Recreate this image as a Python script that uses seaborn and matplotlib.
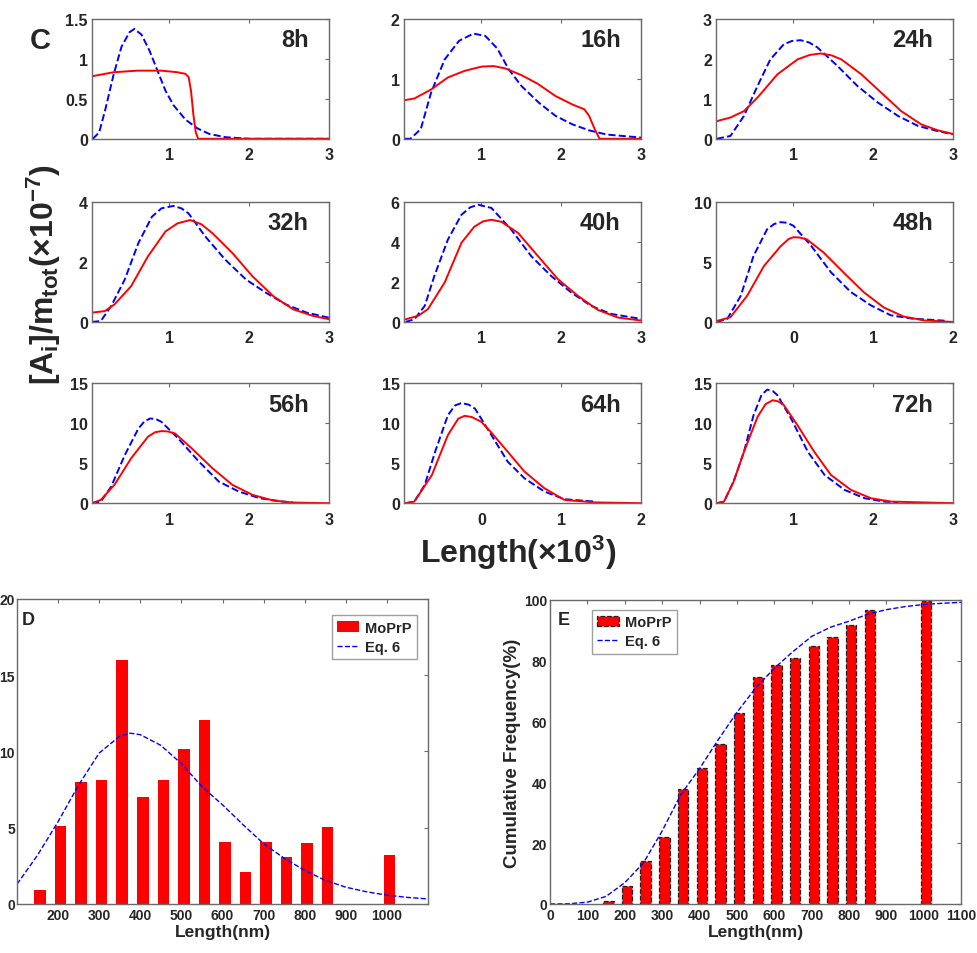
import matplotlib
matplotlib.use("Agg")
import matplotlib.pyplot as plt
import seaborn as sns
import numpy as np
import pandas as pd
from matplotlib.ticker import FuncFormatter

# ---- panel C: length distributions, x in units of 10^3, y in units of 10^-7 ----
red_8h_x = [0.03, 0.3, 0.6, 0.9, 1.1, 1.2, 1.24, 1.27, 1.3, 1.33, 1.36, 2.0, 3.0]
red_8h_y = [0.78, 0.83, 0.85, 0.85, 0.83, 0.81, 0.77, 0.6, 0.3, 0.08, 0.0, 0.0, 0.0]
blue_8h_x = [0.04, 0.12, 0.2, 0.3, 0.4, 0.5, 0.56, 0.65, 0.75, 0.85, 0.95, 1.05, 1.2, 1.35, 1.5, 1.7, 2.0, 3.0]
blue_8h_y = [0.0, 0.08, 0.38, 0.8, 1.15, 1.33, 1.37, 1.3, 1.1, 0.85, 0.6, 0.42, 0.24, 0.13, 0.06, 0.02, 0.0, 0.0]

red_16h_x = [0.03, 0.16, 0.37, 0.58, 0.79, 1.0, 1.15, 1.3, 1.5, 1.7, 1.93, 2.14, 2.29, 2.35, 2.42, 2.48, 3.0]
red_16h_y = [0.64, 0.67, 0.82, 1.02, 1.13, 1.2, 1.21, 1.17, 1.06, 0.92, 0.71, 0.57, 0.49, 0.38, 0.16, 0.0, 0.0]
blue_16h_x = [0.04, 0.11, 0.24, 0.37, 0.54, 0.72, 0.9, 1.05, 1.2, 1.34, 1.5, 1.72, 1.93, 2.14, 2.35, 2.57, 3.0]
blue_16h_y = [0.0, 0.0, 0.16, 0.77, 1.32, 1.63, 1.75, 1.71, 1.5, 1.16, 0.88, 0.6, 0.38, 0.24, 0.14, 0.07, 0.02]

red_24h_x = [0.04, 0.21, 0.38, 0.55, 0.8, 1.05, 1.2, 1.34, 1.48, 1.6, 1.85, 2.1, 2.35, 2.6, 2.81, 3.0]
red_24h_y = [0.44, 0.53, 0.69, 1.03, 1.61, 1.98, 2.09, 2.13, 2.08, 1.98, 1.61, 1.15, 0.69, 0.36, 0.21, 0.12]
blue_24h_x = [0.04, 0.21, 0.38, 0.55, 0.71, 0.88, 0.98, 1.09, 1.2, 1.3, 1.55, 1.8, 2.06, 2.31, 2.56, 2.81, 3.0]
blue_24h_y = [0.0, 0.07, 0.57, 1.32, 1.98, 2.36, 2.44, 2.46, 2.4, 2.28, 1.82, 1.32, 0.9, 0.57, 0.32, 0.19, 0.11]

red_32h_x = [0.03, 0.19, 0.31, 0.52, 0.73, 0.95, 1.1, 1.26, 1.4, 1.54, 1.79, 2.04, 2.3, 2.55, 2.8, 3.0]
red_32h_y = [0.31, 0.36, 0.58, 1.19, 2.18, 3.01, 3.28, 3.39, 3.25, 2.95, 2.29, 1.52, 0.86, 0.42, 0.2, 0.09]
blue_32h_x = [0.03, 0.14, 0.27, 0.44, 0.61, 0.78, 0.9, 1.05, 1.15, 1.24, 1.45, 1.7, 1.96, 2.21, 2.46, 2.72, 3.0]
blue_32h_y = [0.0, 0.03, 0.53, 1.41, 2.62, 3.5, 3.78, 3.86, 3.78, 3.61, 2.84, 2.07, 1.41, 0.97, 0.58, 0.31, 0.14]

red_40h_x = [0.05, 0.21, 0.33, 0.54, 0.75, 0.91, 1.02, 1.125, 1.25, 1.46, 1.71, 1.96, 2.21, 2.46, 2.71, 3.0]
red_40h_y = [0.13, 0.31, 0.64, 1.97, 3.95, 4.75, 5.02, 5.1, 5.0, 4.44, 3.28, 2.13, 1.3, 0.6, 0.22, 0.07]
blue_40h_x = [0.05, 0.16, 0.29, 0.41, 0.58, 0.75, 0.86, 0.96, 1.125, 1.375, 1.625, 1.875, 2.125, 2.375, 2.625, 3.0]
blue_40h_y = [0.0, 0.13, 0.8, 2.29, 4.11, 5.35, 5.72, 5.85, 5.69, 4.6, 3.28, 2.29, 1.47, 0.8, 0.4, 0.15]

red_48h_x = [-0.96, -0.79, -0.58, -0.37, -0.16, -0.06, 0.0, 0.08, 0.17, 0.38, 0.63, 0.88, 1.13, 1.38, 1.64, 2.0]
red_48h_y = [0.08, 0.39, 2.18, 4.65, 6.3, 6.9, 7.05, 7.02, 6.86, 5.76, 4.1, 2.48, 1.21, 0.45, 0.12, 0.0]
blue_48h_x = [-0.96, -0.83, -0.66, -0.5, -0.33, -0.24, -0.16, -0.08, 0.0, 0.22, 0.47, 0.72, 0.97, 1.22, 1.48, 1.9]
blue_48h_y = [0.0, 0.25, 2.18, 5.5, 7.71, 8.15, 8.3, 8.25, 8.0, 6.35, 4.13, 2.48, 1.38, 0.55, 0.28, 0.1]

red_56h_x = [0.03, 0.14, 0.31, 0.52, 0.73, 0.82, 0.9, 0.98, 1.07, 1.28, 1.54, 1.79, 2.04, 2.3, 2.55, 3.0]
red_56h_y = [0.0, 0.41, 2.28, 5.6, 8.29, 8.85, 9.0, 8.95, 8.7, 6.84, 4.35, 2.28, 1.04, 0.33, 0.08, 0.0]
blue_56h_x = [0.03, 0.14, 0.27, 0.44, 0.61, 0.69, 0.76, 0.83, 0.9, 1.11, 1.37, 1.62, 1.87, 2.13, 2.42, 2.55]
blue_56h_y = [0.0, 0.2, 2.07, 6.0, 9.3, 10.25, 10.57, 10.5, 10.15, 8.08, 5.18, 2.69, 1.45, 0.62, 0.2, 0.1]

red_64h_x = [-0.95, -0.84, -0.62, -0.42, -0.29, -0.21, -0.12, 0.0, 0.125, 0.33, 0.54, 0.79, 1.04, 1.42, 2.0]
red_64h_y = [0.0, 0.2, 3.52, 8.5, 10.55, 10.9, 10.75, 10.15, 8.8, 6.42, 3.94, 1.86, 0.41, 0.1, 0.0]
blue_64h_x = [-0.95, -0.84, -0.71, -0.58, -0.42, -0.33, -0.25, -0.16, -0.08, 0.125, 0.33, 0.54, 0.79, 1.04, 1.42]
blue_64h_y = [0.0, 0.2, 2.28, 6.42, 10.98, 12.2, 12.5, 12.3, 11.8, 8.5, 5.18, 3.1, 1.45, 0.5, 0.2]

red_72h_x = [0.04, 0.13, 0.25, 0.38, 0.55, 0.65, 0.74, 0.81, 0.88, 1.05, 1.26, 1.47, 1.72, 1.97, 2.22, 3.0]
red_72h_y = [0.0, 0.2, 2.69, 6.42, 10.77, 12.35, 12.85, 12.7, 12.23, 9.74, 6.42, 3.52, 1.66, 0.62, 0.2, 0.0]
blue_72h_x = [0.04, 0.13, 0.25, 0.38, 0.5, 0.6, 0.67, 0.74, 0.8, 0.97, 1.18, 1.39, 1.64, 1.89, 2.14, 2.31]
blue_72h_y = [0.0, 0.2, 2.69, 6.42, 10.98, 13.5, 14.17, 14.0, 13.47, 10.57, 6.42, 3.52, 1.66, 0.62, 0.2, 0.1]

time_labels = ["8h", "16h", "24h", "32h", "40h", "48h", "56h", "64h", "72h"]

# ---- panels D and E: measured MoPrP fibril lengths ----
bin_nm = [156, 206, 256, 306, 356, 406, 456, 506, 556, 606, 656, 706, 756, 806, 856, 1006]
freq = [0.94, 5.1, 8.0, 8.1, 16.0, 7.0, 8.15, 10.15, 12.05, 4.05, 2.1, 4.05, 3.05, 4.0, 5.05, 3.2]
cum_freq = [1.1, 6.0, 14.1, 22.0, 37.7, 44.7, 52.7, 62.9, 74.7, 78.6, 80.8, 84.7, 87.7, 91.8, 96.7, 99.8]

eq6_x = [100, 150, 200, 250, 300, 350, 375, 400, 450, 500, 550, 600, 650, 700,
         750, 800, 850, 900, 950, 1000, 1050, 1100]
eq6_y = [1.3, 3.2, 5.4, 7.8, 9.9, 11.0, 11.2, 11.1, 10.4, 9.2, 7.7, 6.5, 5.2, 3.95,
         3.0, 2.2, 1.55, 1.1, 0.8, 0.58, 0.43, 0.33]
eq6_cum_x = [0, 50, 100, 150, 200, 250, 300, 350, 400, 450, 500, 550, 600, 650,
             700, 750, 800, 850, 900, 950, 1000, 1050, 1100]
eq6_cum_y = [0.0, 0.05, 0.6, 2.5, 7.0, 13.5, 24.0, 36.0, 44.5, 54.0, 63.0, 71.0, 77.5, 83.0,
             88.0, 91.0, 93.0, 95.3, 96.8, 97.8, 98.5, 98.9, 99.2]

sns.set_style("white")
plt.rcParams["font.family"] = ["Liberation Sans", "DejaVu Sans"]
plt.rcParams["font.weight"] = "bold"
plt.rcParams["mathtext.fontset"] = "custom"
plt.rcParams["mathtext.rm"] = "Liberation Sans:bold"
plt.rcParams["mathtext.it"] = "Liberation Sans:bold"
plt.rcParams["mathtext.bf"] = "Liberation Sans:bold"

RED = "#ff0000"
BLUE = "#0000ff"
FRAME = "#6a6a6a"

fig = plt.figure(figsize=(9.77, 9.54), dpi=100)

c_data = [
    (red_8h_x, red_8h_y, blue_8h_x, blue_8h_y),
    (red_16h_x, red_16h_y, blue_16h_x, blue_16h_y),
    (red_24h_x, red_24h_y, blue_24h_x, blue_24h_y),
    (red_32h_x, red_32h_y, blue_32h_x, blue_32h_y),
    (red_40h_x, red_40h_y, blue_40h_x, blue_40h_y),
    (red_48h_x, red_48h_y, blue_48h_x, blue_48h_y),
    (red_56h_x, red_56h_y, blue_56h_x, blue_56h_y),
    (red_64h_x, red_64h_y, blue_64h_x, blue_64h_y),
    (red_72h_x, red_72h_y, blue_72h_x, blue_72h_y),
]
y_max = [1.5, 2, 3, 4, 6, 10, 15, 15, 15]
y_ticks = [[0, 0.5, 1, 1.5], [0, 1, 2], [0, 1, 2, 3], [0, 2, 4], [0, 2, 4, 6],
           [0, 5, 10], [0, 5, 10, 15], [0, 5, 10, 15], [0, 5, 10, 15]]
shifted = {"48h", "64h"}

col_left = [0.0942, 0.4135, 0.7329]
row_bottom = [0.8535, 0.6615, 0.4715]
fmt = FuncFormatter(lambda v, p: f"{v:g}")


def style_axes(ax, labelsize, ypad=3, xpad=3):
    for s in ax.spines.values():
        s.set_color(FRAME)
        s.set_linewidth(1.0)
    ax.tick_params(direction="in", top=True, right=True, length=3, width=0.8,
                   color=FRAME, labelsize=labelsize)
    ax.tick_params(axis="y", pad=ypad)
    ax.tick_params(axis="x", pad=xpad)


for i, (rx, ry, bx, by) in enumerate(c_data):
    r, c = divmod(i, 3)
    ax = fig.add_axes([col_left[c], row_bottom[r], 0.2426, 0.126])
    sns.lineplot(x=bx, y=by, ax=ax, color=BLUE, linestyle="--", linewidth=1.4, dashes=(4, 2.2))
    sns.lineplot(x=rx, y=ry, ax=ax, color=RED, linewidth=1.4)
    if time_labels[i] in shifted:
        ax.set_xlim(-0.97, 2)
        ax.set_xticks([0, 1, 2])
    else:
        ax.set_xlim(0.03, 3)
        ax.set_xticks([1, 2, 3])
    ax.set_ylim(0, y_max[i])
    ax.set_yticks(y_ticks[i])
    ax.yaxis.set_major_formatter(fmt)
    ax.xaxis.set_major_formatter(fmt)
    style_axes(ax, 11.5, ypad=3, xpad=6)
    ax.text(0.915, 0.92, time_labels[i], transform=ax.transAxes, ha="right", va="top",
            fontsize=17, fontweight="bold")

fig.text(0.03, 0.972, "C", fontsize=21, fontweight="bold", ha="left", va="top")
fig.text(0.045, 0.712, r"$[A_i]/m_{tot}(\times10^{-7})$", rotation=90, fontsize=23,
         ha="center", va="center")
fig.text(0.530, 0.421, r"$Length(\times10^{3})$", fontsize=23, ha="center", va="center")

df_bins = pd.DataFrame({"length": bin_nm, "freq": freq, "cum": cum_freq})


def ordered_legend(ax, **kw):
    handles, labels = ax.get_legend_handles_labels()
    order = [labels.index("MoPrP"), labels.index("Eq. 6")]
    leg = ax.legend([handles[k] for k in order], [labels[k] for k in order],
                    fontsize=10.5, frameon=True, fancybox=False, handlelength=1.5,
                    handletextpad=0.4, borderpad=0.35, labelspacing=0.35, **kw)
    leg.get_frame().set_edgecolor("#888888")
    leg.get_frame().set_linewidth(1.0)


# ---- panel D ----
axd = fig.add_axes([0.0174, 0.0514, 0.4207, 0.3197])
sns.barplot(data=df_bins, x="length", y="freq", ax=axd, native_scale=True, width=0.56,
            color=RED, saturation=1, errorbar=None, linewidth=0, label="MoPrP")
sns.lineplot(x=eq6_x, y=eq6_y, ax=axd, color=BLUE, linestyle="--", linewidth=1.0,
             dashes=(3, 1.5), label="Eq. 6")
axd.set_xlim(100, 1100)
axd.set_ylim(0, 20)
axd.set_xticks(range(200, 1001, 100))
axd.set_yticks([0, 5, 10, 15, 20])
style_axes(axd, 10, ypad=1.5, xpad=3)
axd.set_xlabel("Length(nm)", fontsize=12.5, fontweight="bold", labelpad=1)
axd.set_ylabel("")
axd.text(0.012, 0.96, "D", transform=axd.transAxes, fontsize=13, fontweight="bold",
         ha="left", va="top")
ordered_legend(axd, loc="upper right", bbox_to_anchor=(0.99, 0.97))

# ---- panel E ----
axe = fig.add_axes([0.563, 0.0514, 0.4207, 0.3187])
sns.barplot(data=df_bins, x="length", y="cum", ax=axe, native_scale=True, width=0.56,
            color=RED, saturation=1, errorbar=None, edgecolor="#202020", linewidth=0.9,
            linestyle="--", label="MoPrP")
sns.lineplot(x=eq6_cum_x, y=eq6_cum_y, ax=axe, color=BLUE, linestyle="--", linewidth=1.0,
             dashes=(3, 1.5), label="Eq. 6")
axe.set_xlim(0, 1100)
axe.set_ylim(0, 100)
axe.set_xticks(range(0, 1101, 100))
axe.set_yticks(range(0, 101, 20))
style_axes(axe, 10, ypad=2, xpad=3)
axe.set_xlabel("Length(nm)", fontsize=12.5, fontweight="bold", labelpad=1)
axe.set_ylabel("Cumulative Frequency(%)", fontsize=13.5, fontweight="bold", labelpad=2)
axe.text(0.018, 0.965, "E", transform=axe.transAxes, fontsize=13, fontweight="bold",
         ha="left", va="top")
ordered_legend(axe, loc="upper left", bbox_to_anchor=(0.085, 0.99))

fig.savefig("out.png", dpi=100, facecolor="white")
